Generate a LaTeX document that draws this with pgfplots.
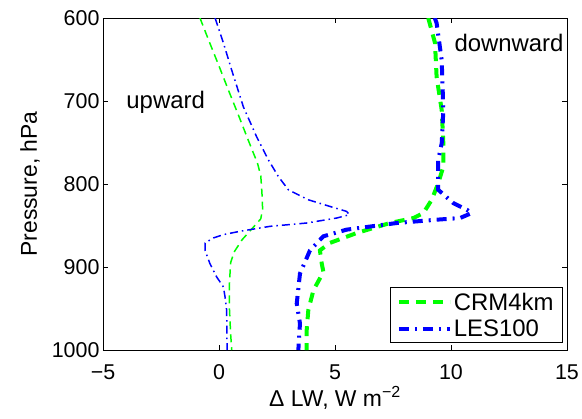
\documentclass[border=0pt]{standalone}
\usepackage{fontspec}
\setmainfont{Liberation Sans}
\usepackage{pgfplots}
\pgfplotsset{compat=1.18}
\definecolor{mgreen}{RGB}{0,255,0}
\definecolor{mblue}{RGB}{0,0,255}
\pgfplotsset{longlegend/.style={legend image code/.code={\draw[#1] (0bp,0bp) -- (51bp,0bp);}}}
\begin{document}
\begin{tikzpicture}
\begin{axis}[
  scale only axis, width=464bp, height=332bp,
  xmin=-5, xmax=15, ymin=600, ymax=1000, y dir=reverse,
  xtick={-5,0,5,10,15}, xticklabels={−5,0,5,10,15},
  ytick={600,700,800,900,1000}, yticklabels={600,700,800,900,1000},
  /pgf/number format/assume math mode=true,
  tick align=inside, major tick length=5bp,
  axis line style={line width=0.8bp},
  every tick/.style={black, line width=0.6bp},
  tick label style={font=\fontsize{21.5}{25}\selectfont},
  xticklabel style={yshift=-11bp},
  label style={font=\fontsize{23}{27}\selectfont},
  xlabel={Δ LW, W m\textsuperscript{−2}},
  ylabel={Pressure, hPa},
  xlabel style={at={(axis description cs:0.5,-0.145)}, anchor=center},
  ylabel style={at={(axis description cs:-0.157,0.5)}, anchor=center},
  legend style={at={(0.991,0.021)}, anchor=south east, draw=black, line width=0.6bp,
    fill=white, font=\fontsize{24}{28}\selectfont, inner xsep=7bp, inner ysep=3bp,
    row sep=4bp, cells={anchor=west}},
  legend cell align=left,
  longlegend,
  clip=true,
]
\addplot[mgreen, line width=4bp, dash pattern=on 10bp off 7bp]
coordinates {(9.02,600) (9.31,630) (9.38,671) (9.6,711) (9.67,751) (9.67,779) (9.45,799) (9.17,819) (8.81,835) (8.38,841) (7.37,847) (5.94,859) (4.78,871) (4.35,880) (4.43,896) (4.5,906) (4.07,928) (3.85,952) (3.78,976) (3.78,1000)};
\addlegendentry{CRM4km}
\addplot[mblue, line width=4bp, dash pattern=on 10bp off 6bp on 2bp off 6bp]
coordinates {(9.3,600) (9.38,606) (9.6,651) (9.67,711) (9.6,751) (9.45,771) (9.45,807) (10.1,823) (10.68,831) (10.89,835) (10.39,841) (9.38,843) (7.66,847) (5.5,855) (4.5,863) (3.92,880) (3.49,908) (3.35,944) (3.49,968) (3.42,1000)};
\addlegendentry{LES100}
\addplot[mgreen, line width=1.5bp, dash pattern=on 8bp off 5bp, forget plot]
coordinates {(-0.82,600) (-0.4,630) (0.03,660) (0.45,690) (0.88,720) (1.3,750) (1.66,775) (1.8,790) (1.85,810) (1.88,830) (1.8,842) (1.45,853) (1.0,867) (0.65,882) (0.5,895) (0.45,920) (0.45,950) (0.5,980) (0.55,1000)};
\addplot[mblue, line width=1.5bp, dash pattern=on 8bp off 4bp on 1.5bp off 4bp, forget plot]
coordinates {(-0.17,600) (0.19,630) (0.55,663) (1.05,707) (1.62,743) (2.13,771) (2.56,791) (2.99,807) (3.85,819) (4.78,827) (5.5,833) (5.62,837) (5.07,841) (3.78,847) (2.2,851) (0.9,857) (0.19,861) (-0.24,865) (-0.6,871) (-0.6,880) (-0.39,896) (-0.1,912) (0.19,924) (0.26,936) (0.33,952) (0.35,1000)};
\node[anchor=base, font=\fontsize{24}{28}\selectfont] at (axis cs:-2.3,708.5) {upward};
\node[anchor=base, font=\fontsize{24}{28}\selectfont] at (axis cs:12.5,640) {downward};
\end{axis}
\pgfresetboundingbox
\path (-103bp,-69bp) rectangle (479bp,350bp);
\end{tikzpicture}
\end{document}
